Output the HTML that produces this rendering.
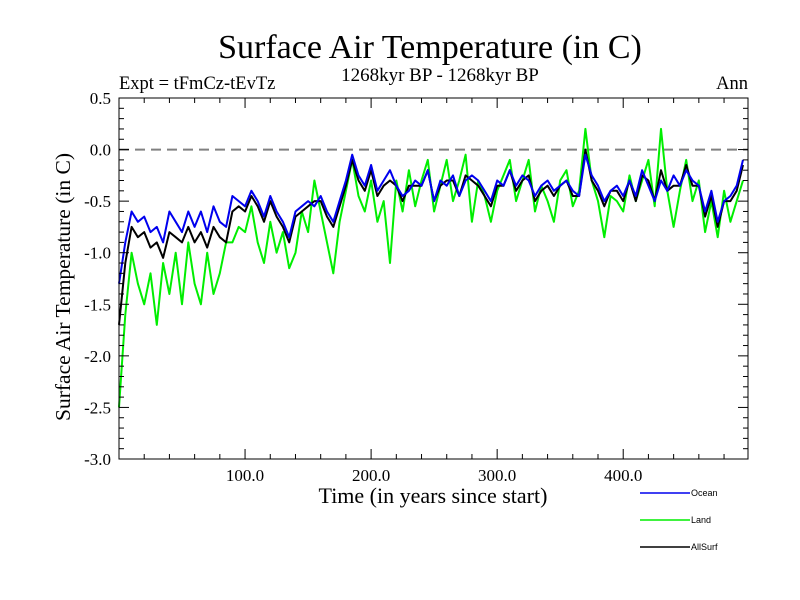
<!DOCTYPE html>
<html><head><meta charset="utf-8">
<style>
html,body{margin:0;padding:0;background:#fff;}
svg{display:block;}
.serif{font-family:"Liberation Serif",serif;}
.sans{font-family:"Liberation Sans",sans-serif;}
</style></head>
<body>
<svg id="chart" width="800" height="600" viewBox="0 0 800 600" xmlns="http://www.w3.org/2000/svg">
<rect width="800" height="600" fill="#fff"/>
<text class="serif" x="430" y="58" font-size="34" text-anchor="middle">Surface Air Temperature (in C)</text>
<text class="serif" x="119" y="89" font-size="18.5">Expt = tFmCz-tEvTz</text>
<text class="serif" x="440" y="81" font-size="19" text-anchor="middle">1268kyr BP - 1268kyr BP</text>
<text class="serif" x="748" y="89" font-size="18.5" text-anchor="end">Ann</text>
<text class="serif" transform="translate(70,287) rotate(-90)" font-size="21.5" text-anchor="middle">Surface Air Temperature (in C)</text>
<text class="serif" x="433" y="503" font-size="22" text-anchor="middle">Time (in years since start)</text>
<g id="plot"></g>
<g id="legend"></g>
</svg>
<script>
const years = [];
for (let i = 0; i < 100; i++) years.push(i * 5);
const ocean = [-1.3,-0.9,-0.6,-0.7,-0.65,-0.8,-0.75,-0.9,-0.6,-0.7,
-0.8,-0.6,-0.75,-0.6,-0.8,-0.55,-0.7,-0.75,-0.45,-0.5,
-0.55,-0.4,-0.5,-0.65,-0.45,-0.6,-0.7,-0.85,-0.6,-0.55,
-0.5,-0.55,-0.45,-0.6,-0.7,-0.5,-0.3,-0.05,-0.25,-0.35,
-0.15,-0.4,-0.3,-0.2,-0.35,-0.45,-0.4,-0.3,-0.35,-0.2,
-0.5,-0.3,-0.35,-0.25,-0.45,-0.3,-0.25,-0.3,-0.4,-0.5,
-0.3,-0.35,-0.2,-0.35,-0.25,-0.3,-0.45,-0.35,-0.3,-0.4,
-0.35,-0.3,-0.4,-0.45,-0.05,-0.25,-0.35,-0.5,-0.4,-0.35,
-0.45,-0.3,-0.45,-0.2,-0.35,-0.5,-0.3,-0.4,-0.25,-0.35,
-0.2,-0.3,-0.35,-0.6,-0.4,-0.7,-0.5,-0.45,-0.35,-0.1];
const land = [-2.5,-1.6,-1.0,-1.3,-1.5,-1.2,-1.7,-1.1,-1.4,-1.0,
-1.5,-0.9,-1.3,-1.5,-1.0,-1.4,-1.2,-0.9,-0.9,-0.75,
-0.8,-0.55,-0.9,-1.1,-0.7,-1.0,-0.8,-1.15,-1.0,-0.6,
-0.8,-0.3,-0.6,-0.9,-1.2,-0.7,-0.4,-0.1,-0.45,-0.6,
-0.3,-0.7,-0.5,-1.1,-0.3,-0.6,-0.2,-0.55,-0.3,-0.1,
-0.6,-0.35,-0.1,-0.5,-0.3,-0.05,-0.7,-0.3,-0.45,-0.7,
-0.4,-0.25,-0.1,-0.5,-0.3,-0.1,-0.6,-0.35,-0.5,-0.7,
-0.3,-0.2,-0.55,-0.4,0.2,-0.3,-0.5,-0.85,-0.45,-0.5,
-0.6,-0.25,-0.5,-0.3,-0.1,-0.55,0.2,-0.4,-0.75,-0.4,
-0.1,-0.5,-0.3,-0.8,-0.5,-0.85,-0.4,-0.7,-0.5,-0.3];
const allsurf = [-1.7,-1.1,-0.75,-0.85,-0.8,-0.95,-0.9,-1.05,-0.8,-0.85,
-0.9,-0.75,-0.9,-0.8,-0.95,-0.75,-0.85,-0.9,-0.6,-0.55,
-0.6,-0.45,-0.55,-0.7,-0.5,-0.65,-0.75,-0.9,-0.65,-0.6,
-0.55,-0.5,-0.5,-0.65,-0.75,-0.55,-0.35,-0.1,-0.3,-0.4,
-0.2,-0.45,-0.35,-0.3,-0.35,-0.5,-0.35,-0.35,-0.35,-0.2,
-0.5,-0.35,-0.3,-0.3,-0.45,-0.25,-0.3,-0.35,-0.45,-0.55,
-0.35,-0.35,-0.2,-0.4,-0.3,-0.25,-0.5,-0.4,-0.35,-0.45,
-0.35,-0.3,-0.45,-0.45,0.0,-0.3,-0.4,-0.55,-0.4,-0.4,
-0.5,-0.3,-0.5,-0.25,-0.3,-0.5,-0.2,-0.4,-0.35,-0.35,
-0.15,-0.35,-0.35,-0.65,-0.45,-0.75,-0.5,-0.5,-0.4,-0.15];
const yTicks = [0.5,0.0,-0.5,-1.0,-1.5,-2.0,-2.5,-3.0];
const yTickLabels = ["0.5","0.0","-0.5","-1.0","-1.5","-2.0","-2.5","-3.0"];
const xTicks = [100,200,300,400];
const xTickLabels = ["100.0","200.0","300.0","400.0"];

const NS = "http://www.w3.org/2000/svg";
const L = 119, R = 748, T = 98, B = 459;
const xMin = 0, xMax = 499, yMin = -3.0, yMax = 0.5;
const xs = v => L + (v - xMin) / (xMax - xMin) * (R - L);
const ys = v => B - (v - yMin) / (yMax - yMin) * (B - T);
const plot = document.getElementById('plot');
function mk(tag, attrs, parent) {
  const e = document.createElementNS(NS, tag);
  for (const k in attrs) e.setAttribute(k, attrs[k]);
  (parent || plot).appendChild(e);
  return e;
}
const zl = mk('line', {x1: L, x2: R, y1: ys(0), y2: ys(0), stroke: '#808080', 'stroke-width': 2, 'stroke-dasharray': '10,6'});


function series(vals, color, name) {
  const d = vals.map((v, i) => (i ? 'L' : 'M') + xs(years[i]).toFixed(1) + ',' + ys(v).toFixed(1)).join('');
  const p = mk('path', {d: d, fill: 'none', stroke: color, 'stroke-width': 2, 'stroke-linejoin': 'round'});
  
  
}
series(land, '#00ee00', 'land-line');
series(allsurf, '#000000', 'allsurf-line');
series(ocean, '#0000ee', 'ocean-line');
const fr = mk('rect', {x: L, y: T, width: R - L, height: B - T, fill: 'none', stroke: '#000', 'stroke-width': 1});


for (let v = -30; v <= 5; v++) {
  const major = v % 5 === 0;
  const len = major ? 10 : 5;
  const y = ys(v / 10);
  mk('line', {x1: L, x2: L + len, y1: y, y2: y, stroke: '#000'});
  mk('line', {x1: R - len, x2: R, y1: y, y2: y, stroke: '#000'});
}
yTicks.forEach((v, i) => {
  const t = mk('text', {x: 111, y: ys(v) + 6, 'font-size': 17, 'text-anchor': 'end', class: 'serif'});
  t.textContent = yTickLabels[i];
  
  
});
for (let v = 20; v < xMax; v += 20) {
  const major = v % 100 === 0;
  const len = major ? 10 : 5;
  const x = xs(v);
  mk('line', {x1: x, x2: x, y1: B - len, y2: B, stroke: '#000'});
  mk('line', {x1: x, x2: x, y1: T, y2: T + len, stroke: '#000'});
}
xTicks.forEach((v, i) => {
  const t = mk('text', {x: xs(v), y: 481, 'font-size': 17, 'text-anchor': 'middle', class: 'serif'});
  t.textContent = xTickLabels[i];
  
  
});
const legend = document.getElementById('legend');
const legendNames = ["Ocean", "Land", "AllSurf"];
const legendColors = ['#0000ee', '#00ee00', '#000000'];
legendNames.forEach((n, i) => {
  const y = 493 + i * 27;
  const ln = mk('line', {x1: 640, x2: 690, y1: y, y2: y, stroke: legendColors[i], 'stroke-width': 1.5}, legend);
  
  
  const t = mk('text', {x: 691, y: y + 3, 'font-size': 9, class: 'sans'}, legend);
  t.textContent = n;
  
  
});
</script>
</body></html>
